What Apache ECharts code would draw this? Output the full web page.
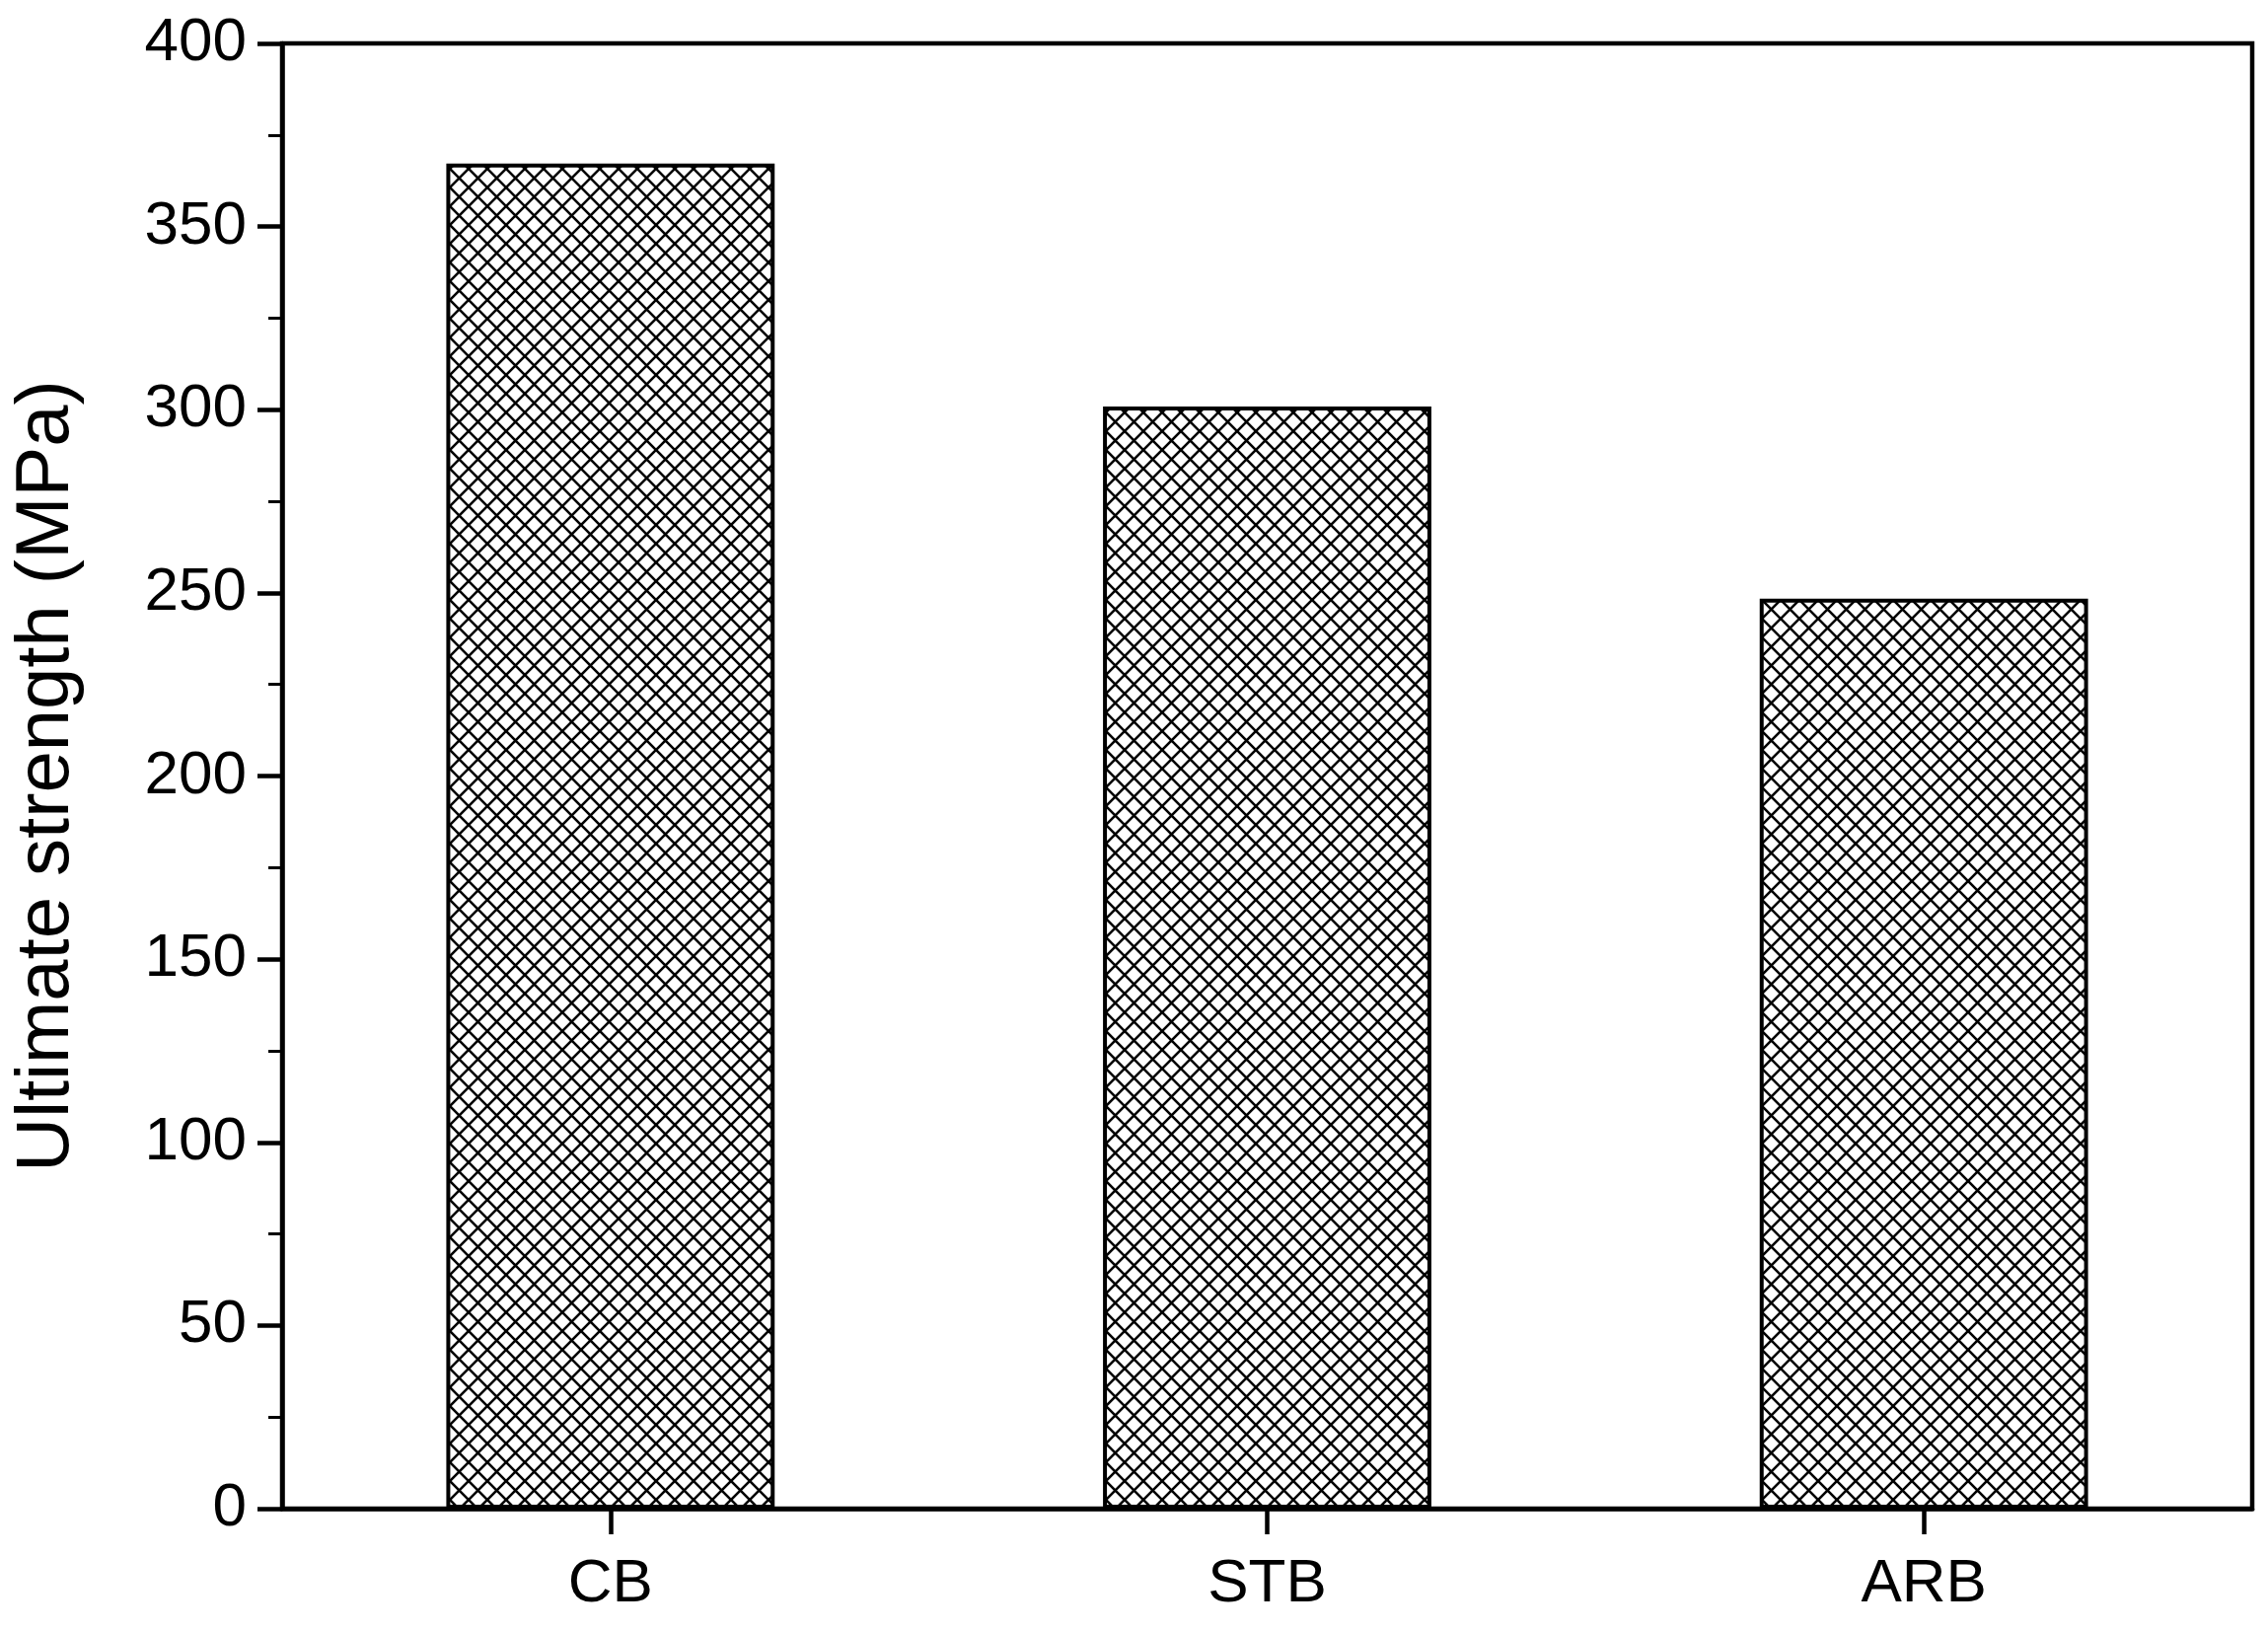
<!DOCTYPE html>
<html><head><meta charset="utf-8">
<script src="https://cdn.jsdelivr.net/npm/echarts@6/dist/echarts.min.js"></script>
<style>html,body{margin:0;padding:0;background:#fff}#c{width:2299px;height:1653px}</style>
</head><body><div id="c"></div>
<script>
const categories = ['CB','STB','ARB'];
const values = [367.2, 300.9, 248.4];
const yTicks = {min:0, max:400, interval:50};

const p = document.createElement('canvas');
p.width = 19; p.height = 19;
const g = p.getContext('2d');
g.fillStyle = '#fff'; g.fillRect(0,0,19,19);
g.strokeStyle = '#000'; g.lineWidth = 2.6;
g.beginPath();
g.moveTo(-2,-2); g.lineTo(21,21);
g.moveTo(21,-2); g.lineTo(-2,21);
g.stroke();

const chart = echarts.init(document.getElementById('c'));
const font = 'Arial, Liberation Sans, sans-serif';
const lineS = {color:'#000', width:4.5};
chart.setOption({
  animation:false,
  grid:{left:286, right:16, top:44, bottom:124, containLabel:false, show:true, borderColor:'#000', borderWidth:4.5, backgroundColor:'transparent'},
  xAxis:[{type:'category', data:categories, boundaryGap:true,
    axisLine:{show:true, lineStyle:lineS}, axisTick:{show:true, alignWithLabel:true, length:26, lineStyle:lineS, inside:false},
    axisLabel:{fontSize:62, fontFamily:font, color:'#000', margin:46}}],
  yAxis:[{type:'value', min:yTicks.min, max:yTicks.max, interval:yTicks.interval,
    name:'Ultimate strength (MPa)', nameLocation:'middle', nameGap:200, nameRotate:90,
    nameTextStyle:{fontSize:76, fontFamily:font, color:'#000'},
    axisLine:{show:true, lineStyle:lineS}, axisTick:{show:true, length:25, lineStyle:lineS},
    minorTick:{show:true, splitNumber:2, length:14, lineStyle:{color:'#000', width:3}},
    splitLine:{show:false},
    axisLabel:{fontSize:62, fontFamily:font, color:'#000', margin:36}}],
  series:[{type:'bar', data:values, barWidth:'50%',
    itemStyle:{color:{image:p, repeat:'repeat'}, borderColor:'#000', borderWidth:4}}]
});
</script></body></html>
